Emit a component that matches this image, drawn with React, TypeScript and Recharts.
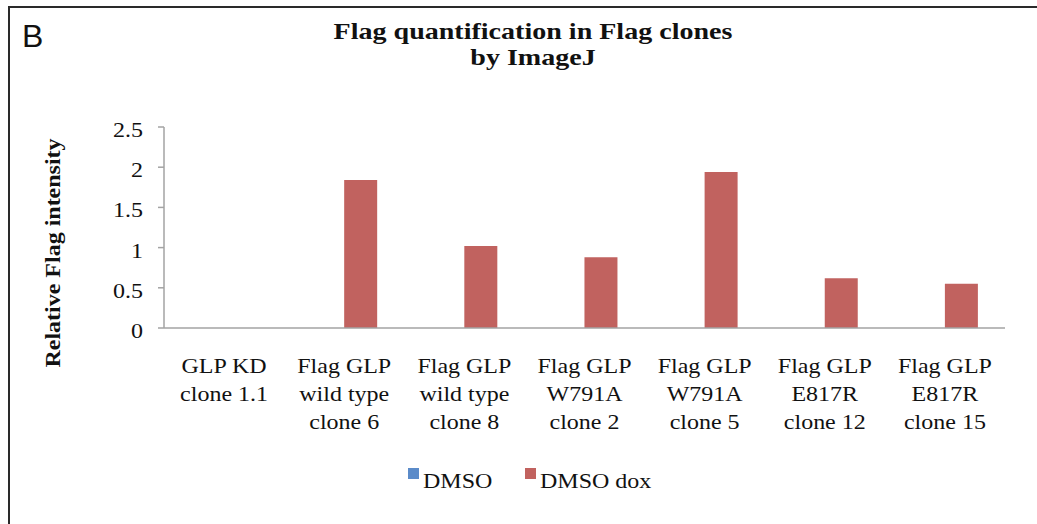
import React from "react"
import { BarChart, Bar, XAxis, YAxis, Legend } from "recharts"

const categories = [
  "GLP KD\nclone 1.1",
  "Flag GLP\nwild type\nclone 6",
  "Flag GLP\nwild type\nclone 8",
  "Flag GLP\nW791A\nclone 2",
  "Flag GLP\nW791A\nclone 5",
  "Flag GLP\nE817R\nclone 12",
  "Flag GLP\nE817R\nclone 15",
]
const dmso = [0, 0, 0, 0, 0, 0, 0]
const dmsoDox = [0, 1.84, 1.02, 0.88, 1.94, 0.62, 0.55]
const yTicks = [0, 0.5, 1, 1.5, 2, 2.5]

const data = categories.map((name, i) => ({ name, dmso: dmso[i], dmsoDox: dmsoDox[i] }))

const SERIF = "'Liberation Serif', 'Times New Roman', serif"
const AXIS = "#A3A3A3"
const STRETCH = 1.2

function XTick(props: any) {
  const { x, y, payload } = props
  const lines = String(payload.value).split("\n")
  return (
    <g transform={`translate(${x},${y})`}>
      {lines.map((line: string, i: number) => (
        <text
          key={i}
          transform={`translate(0,${45 + i * 28}) scale(${STRETCH},1)`}
          textAnchor="middle"
          fontFamily={SERIF}
          fontSize={20}
          fill="#111"
        >
          {line}
        </text>
      ))}
    </g>
  )
}

function YTick(props: any) {
  const { x, y, payload } = props
  return (
    <text
      transform={`translate(${x},${y + 10}) scale(${STRETCH},1)`}
      textAnchor="end"
      fontFamily={SERIF}
      fontSize={20}
      fill="#111"
    >
      {String(payload.value)}
    </text>
  )
}

const legendX = [408, 525]

function LegendContent(props: any) {
  const items = props.payload || []
  return (
    <svg width={1037} height={34} style={{ display: "block" }}>
      {items.map((p: any, i: number) => (
        <g key={p.value}>
          <rect x={legendX[i]} y={8} width={11} height={11} fill={p.color} />
          <text
            transform={`translate(${legendX[i] + 15},28) scale(${STRETCH},1)`}
            fontFamily={SERIF}
            fontSize={20}
            fill="#111"
          >
            {p.value}
          </text>
        </g>
      ))}
    </svg>
  )
}

export default function App() {
  return (
    <div style={{ position: "fixed", left: 0, top: 0, width: 1037, height: 524, background: "#fff" }}>
      <div
        style={{
          position: "absolute",
          left: 8,
          top: 6,
          width: 1029,
          height: 518,
          borderTop: "2px solid #2a2a2a",
          borderLeft: "2px solid #2a2a2a",
          boxSizing: "border-box",
        }}
      />
      <BarChart
        width={1037}
        height={524}
        data={data}
        margin={{ top: 127, right: 32, left: 104, bottom: 96 }}
        barCategoryGap="22.5%"
        barGap={0}
      >
        <XAxis
          dataKey="name"
          interval={0}
          tickLine={false}
          tickSize={0}
          tickMargin={0}
          height={100}
          axisLine={{ stroke: AXIS, strokeWidth: 1.5 }}
          tick={<XTick />}
        />
        <YAxis
          width={60}
          domain={[0, 2.5]}
          ticks={yTicks}
          tickSize={6}
          tickMargin={15}
          axisLine={{ stroke: AXIS, strokeWidth: 1.5 }}
          tickLine={{ stroke: AXIS, strokeWidth: 1.5 }}
          tick={<YTick />}
        />
        <Legend
          layout="horizontal"
          verticalAlign="middle"
          align="center"
          wrapperStyle={{ top: 460, left: 0, width: 1037 }}
          content={<LegendContent />}
        />
        <Bar dataKey="dmso" name="DMSO" fill="#5B8BC9" isAnimationActive={false} />
        <Bar dataKey="dmsoDox" name="DMSO dox" fill="#C1625F" isAnimationActive={false} />
      </BarChart>
      <svg
        width={1037}
        height={524}
        style={{ position: "absolute", left: 0, top: 0, pointerEvents: "none" }}
      >
        <text x={22} y={47} fontFamily="'Liberation Sans', Arial, sans-serif" fontSize={32} fill="#111">
          B
        </text>
        <text
          transform={`translate(533,38.5) scale(1.22,1)`}
          textAnchor="middle"
          fontFamily={SERIF}
          fontWeight="bold"
          fontSize={23}
          fill="#111"
        >
          Flag quantification in Flag clones
        </text>
        <text
          transform={`translate(533,65) scale(1.22,1)`}
          textAnchor="middle"
          fontFamily={SERIF}
          fontWeight="bold"
          fontSize={23}
          fill="#111"
        >
          by ImageJ
        </text>
        <text
          transform={`translate(60,253) rotate(-90) scale(${STRETCH},1)`}
          textAnchor="middle"
          fontFamily={SERIF}
          fontWeight="bold"
          fontSize={20}
          fill="#111"
        >
          Relative Flag intensity
        </text>
      </svg>
    </div>
  )
}
